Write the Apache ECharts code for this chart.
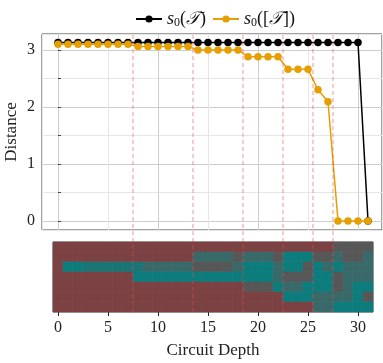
<!DOCTYPE html>
<html>
<head>
<meta charset="utf-8">
<script src="https://cdn.jsdelivr.net/npm/echarts@6/dist/echarts.min.js"></script>
<style>
  html, body { margin: 0; padding: 0; background: #fff; }
  #chart { width: 383px; height: 363px; }
</style>
</head>
<body>
<div id="chart"></div>
<script>
// circuit depth (x)
var depth = [0,1,2,3,4,5,6,7,8,9,10,11,12,13,14,15,16,17,18,19,20,21,22,23,24,25,26,27,28,29,30,31];
// s0(T)
var distPlain = [3.13,3.13,3.13,3.13,3.13,3.13,3.13,3.13,3.13,3.13,3.13,3.13,3.13,3.13,3.13,3.13,
                 3.13,3.13,3.13,3.13,3.13,3.13,3.13,3.13,3.13,3.13,3.13,3.13,3.13,3.13,3.13,0];
// s0([T])
var distClass = [3.10,3.10,3.10,3.10,3.10,3.10,3.10,3.10,3.06,3.06,3.06,3.06,3.06,3.06,3.00,3.00,
                 3.00,3.00,3.00,2.88,2.88,2.88,2.88,2.66,2.66,2.66,2.30,2.09,0,0,0,0];
// dashed separators
var cuts = [7.5, 13.5, 18.5, 22.5, 25.5, 27.5];

// strip below: 0 red, 1 teal, 2 grey, 3 grey-teal, 4 mid teal
var row0 = [0,0,0,0,0,0,0,0,0,0,0,0,0,0,0,0,0,0,0,0,0,0,0,0,0,0,0,0,2,2,2,2];
var row1 = [0,0,0,0,0,0,0,0,0,0,0,0,0,0,3,3,3,3,2,3,3,3,2,1,1,1,2,2,3,2,2,3];
var row2 = [0,1,1,4,4,4,4,4,4,3,3,3,3,3,2,2,2,2,3,1,1,1,3,1,1,2,1,3,1,3,3,3];
var row3 = [0,0,0,0,0,0,0,0,1,1,1,1,1,1,1,1,1,1,1,1,1,1,3,2,2,2,1,1,2,3,3,3];
var row4 = [0,0,0,0,0,0,0,0,0,0,0,0,0,0,0,0,0,0,0,2,2,2,1,3,3,1,1,1,2,3,1,1];
var row5 = [0,0,0,0,0,0,0,0,0,0,0,0,0,0,0,0,0,0,0,0,0,0,0,1,1,1,3,3,3,3,1,2];
var row6 = [0,0,0,0,0,0,0,0,0,0,0,0,0,0,0,0,0,0,0,0,0,0,0,0,0,0,3,3,1,1,1,1];
var rows = [row0, row1, row2, row3, row4, row5, row6];
var rowNames = ['0','1','2','3','4','5','6'];
var stateColors = ['#7b4143', '#0c7c7c', '#575757', '#3a6969', '#1b7575'];

var cells = [];
rows.forEach(function (r, j) {
  r.forEach(function (v, i) {
    cells.push({ value: [i, j, v], itemStyle: { color: stateColors[v] } });
  });
});

var serif = 'Liberation Serif';
var myChart = echarts.init(document.getElementById('chart'));

var series = [
  {
    name: 'plain', type: 'line', xAxisIndex: 0, yAxisIndex: 0,
    data: depth.map(function (d, i) { return [d, distPlain[i]]; }),
    symbol: 'circle', symbolSize: 7.5,
    itemStyle: { color: '#000' },
    lineStyle: { color: '#000', width: 1.5 },
    z: 3
  },
  {
    name: 'class', type: 'line', xAxisIndex: 0, yAxisIndex: 0,
    data: depth.map(function (d, i) { return [d, distClass[i]]; }),
    symbol: 'circle', symbolSize: 7.5,
    itemStyle: { color: '#e69f00' },
    lineStyle: { color: '#e69f00', width: 1.5 },
    z: 4
  },
  {
    name: 'strip', type: 'heatmap', xAxisIndex: 1, yAxisIndex: 1,
    data: cells,
    itemStyle: { borderColor: 'rgba(255,255,255,0.06)', borderWidth: 0.5 },
    emphasis: { disabled: true }
  }
];

// one dashed vertical per cut, spanning both panels
cuts.forEach(function (c) {
  series.push({
    name: 'cut' + c, type: 'line', xAxisIndex: 2, yAxisIndex: 2,
    data: [[c, 0], [c, 1]],
    symbol: 'none', silent: true, z: 10,
    lineStyle: { color: 'rgba(236,70,70,0.52)', type: [4, 3], width: 1.1 },
    emphasis: { disabled: true }
  });
});

var option = {
  animation: false,
  textStyle: { fontFamily: serif },
  legend: {
    top: 5,
    left: 130,
    itemWidth: 26,
    itemHeight: 9,
    itemGap: 6,
    data: ['plain', 'class'],
    formatter: function (name) {
      return name === 'plain'
        ? '{it|s}{sub|0}{n|(}{cal|𝒯}{n|)}'
        : '{it|s}{sub|0}{n|([}{cal|𝒯}{n|])}';
    },
    textStyle: {
      fontFamily: serif,
      rich: {
        it: { fontFamily: serif, fontStyle: 'italic', fontSize: 18, color: '#111' },
        sub: { fontFamily: serif, fontSize: 12, color: '#111', padding: [8, 0, 0, 0] },
        n: { fontFamily: serif, fontSize: 18, color: '#111' },
        cal: { fontFamily: serif, fontStyle: 'italic', fontSize: 18, color: '#111' }
      }
    }
  },
  grid: [
    { left: 42, right: 1, top: 34, height: 196, show: true, borderColor: '#444', borderWidth: 1,
      backgroundColor: 'transparent', containLabel: false, outerBoundsMode: 'none' },
    { left: 53, right: 10, top: 242, height: 70, show: true, borderColor: '#444', borderWidth: 1,
      backgroundColor: 'transparent', containLabel: false, outerBoundsMode: 'none' },
    { left: 42, right: 1, top: 34, bottom: 51, containLabel: false, outerBoundsMode: 'none' }
  ],
  xAxis: [
    {
      gridIndex: 0, type: 'value', min: -1.6, max: 32.4, splitNumber: 7,
      axisLine: { show: false }, axisTick: { show: false }, axisLabel: { show: false },
      splitLine: { show: true, lineStyle: { color: ['#e6e6e6', '#cdcdcd'], width: 1 } }
    },
    {
      gridIndex: 1, type: 'category', data: depth,
      axisLine: { show: false },
      axisTick: { show: true, alignWithLabel: true, length: 4, inside: false,
                  interval: function (i) { return i % 5 === 0; },
                  lineStyle: { color: '#222', width: 1 } },
      axisLabel: { show: true, margin: 8, fontFamily: serif, fontSize: 16, color: '#222',
                   interval: function (i) { return i % 5 === 0; } },
      splitLine: { show: false },
      name: 'Circuit Depth', nameLocation: 'middle', nameGap: 30,
      nameTextStyle: { fontFamily: serif, fontSize: 17, color: '#222' }
    },
    { gridIndex: 2, type: 'value', min: -1.6, max: 32.4, show: false }
  ],
  yAxis: [
    {
      gridIndex: 0, type: 'value', min: -0.16, max: 3.28, splitNumber: 7,
      axisLine: { show: false },
      axisTick: { show: true, inside: true, length: 3, lineStyle: { color: '#444' } },
      axisLabel: {
        show: true, margin: 7, fontFamily: serif, fontSize: 16, color: '#222',
        showMinLabel: false, showMaxLabel: false,
        formatter: function (v) { return Math.abs(v - Math.round(v)) < 1e-6 ? String(Math.round(v)) : ''; }
      },
      splitLine: { show: true, lineStyle: { color: ['#e6e6e6', '#cdcdcd'], width: 1 } },
      name: 'Distance', nameLocation: 'middle', nameGap: 22, nameRotate: 90, nameMoveOverlap: false,
      nameTextStyle: { fontFamily: serif, fontSize: 17, color: '#222' }
    },
    {
      gridIndex: 1, type: 'category', data: rowNames, inverse: true,
      axisLine: { show: false }, axisTick: { show: false }, axisLabel: { show: false }
    },
    { gridIndex: 2, type: 'value', min: 0, max: 1, show: false }
  ],
  series: series
};

myChart.setOption(option);
</script>
</body>
</html>
